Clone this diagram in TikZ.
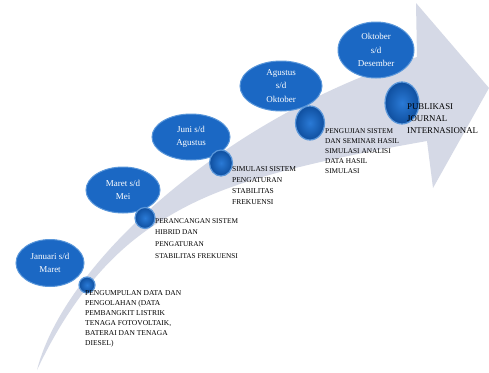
\documentclass[tikz,border=0pt]{standalone}
\usepackage{fontspec}
\setmainfont{Liberation Serif}
\usetikzlibrary{shapes.geometric}
\definecolor{band}{HTML}{D5D9E6}
\definecolor{ellblue}{HTML}{1B68C4}
\definecolor{ellrim}{HTML}{5A97DA}
\definecolor{bubin}{HTML}{2A7AD6}
\definecolor{bubout}{HTML}{0F4F9F}
\tikzset{
  period/.style={ellipse, fill=ellblue, draw=ellrim, line width=1pt, text=white,
    font=\fontsize{9}{13.5}\selectfont, align=center, inner sep=0pt},
  bubble/.style={ellipse, draw=ellrim, line width=1.2pt, inner sep=0pt,
    inner color=bubin, outer color=bubout},
  task/.style={anchor=north west, align=left, inner sep=0pt, text=black,
    font=\fontsize{7.3}{10.5}\selectfont}
}
\begin{document}
\begin{tikzpicture}[x=1pt,y=-1pt]
\useasboundingbox (0,0) rectangle (489,372);
\fill[white] (0,0) rectangle (489,372);
% big curved arrow
\fill[band] (37,370) .. controls (65,260) and (230,115) .. (417,57)
  -- (416,3) -- (489,88) -- (433,188) -- (427,141)
  .. controls (250,172) and (200,195) .. (150,228)
  .. controls (110,255) and (70,300) .. (37,370) -- cycle;
% period ellipses
\node[period, minimum width=68pt, minimum height=47pt] (p1) at (50,263) {Januari s/d\\Maret};
\node[period, minimum width=74pt, minimum height=46pt] (p2) at (123,190) {Maret s/d\\Mei};
\node[period, minimum width=78pt, minimum height=46pt] (p3) at (191,137) {Juni s/d\\Agustus};
\node[period, minimum width=82pt, minimum height=50pt] (p4) at (281,86) {Agustus\\s/d\\Oktober};
\node[period, minimum width=76pt, minimum height=56pt] (p5) at (376,50) {Oktober\\s/d\\Desember};
% bubbles
\node[bubble, minimum width=16pt, minimum height=16pt] (b1) at (87,285) {};
\node[bubble, minimum width=20pt, minimum height=21pt] (b2) at (145,218) {};
\node[bubble, minimum width=23pt, minimum height=26pt] (b3) at (221,163) {};
\node[bubble, minimum width=29pt, minimum height=34pt] (b4) at (310,123) {};
\node[bubble, minimum width=34pt, minimum height=42pt] (b5) at (402,103) {};
% task texts
\node[task, font=\fontsize{7.5}{10}\selectfont] (t1) at (85,290) {PENGUMPULAN DATA DAN\\PENGOLAHAN (DATA\\PEMBANGKIT LISTRIK\\TENAGA FOTOVOLTAIK,\\BATERAI DAN TENAGA\\DIESEL)};
\node[task, font=\fontsize{7.3}{11.7}\selectfont] (t2) at (155,218) {PERANCANGAN SISTEM\\HIBRID DAN\\PENGATURAN\\STABILITAS FREKUENSI};
\node[task, font=\fontsize{7.5}{11}\selectfont] (t3) at (232,166) {SIMULASI SISTEM\\PENGATURAN\\STABILITAS\\FREKUENSI};
\node[task, font=\fontsize{7.3}{10}\selectfont] (t4) at (325,128) {PENGUJIAN SISTEM\\DAN SEMINAR HASIL\\SIMULASI ANALISI\\DATA HASIL\\SIMULASI};
\node[task, font=\fontsize{8.8}{12}\selectfont] (t5) at (407,103) {PUBLIKASI\\JOURNAL\\INTERNASIONAL};
\end{tikzpicture}
\end{document}
